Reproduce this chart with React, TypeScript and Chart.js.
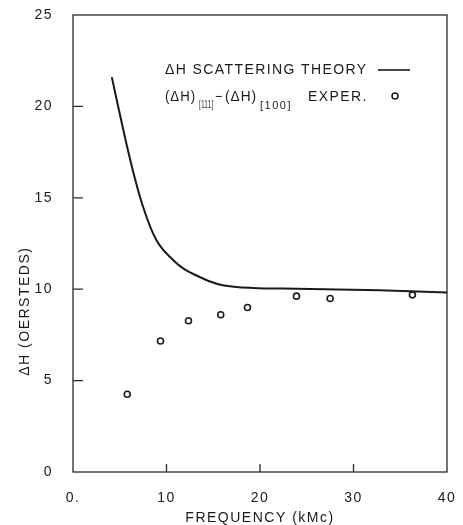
import React, { useEffect, useRef } from "react";
import { Chart, registerables } from "chart.js";

Chart.register(...registerables);

// Theory curve (ΔH scattering theory)
const theoryFreq = [4.15, 5.3, 6.4, 7.5, 8.9, 10.7, 11.9, 13.2, 14.5, 16.0, 19.2, 23.9, 32.8, 40];
const theoryDH = [21.6, 18.9, 16.5, 14.5, 12.7, 11.6, 11.1, 10.75, 10.45, 10.22, 10.07, 10.03, 9.94, 9.82];

// Experimental points (ΔH)[111] − (ΔH)[100]
const experFreq = [5.8, 9.36, 12.35, 15.8, 18.66, 23.9, 27.5, 36.3];
const experDH = [4.25, 7.17, 8.27, 8.6, 9.0, 9.62, 9.49, 9.69];

const xTickValues = [0, 10, 20, 30, 40];
const xTickLabels = ["0.", "10", "20", "30", "40"];
const yTickValues = [0, 5, 10, 15, 20, 25];
const yTickLabels = ["0", "5", "10", "15", "20", "25"];

const xTitle = "FREQUENCY (kMc)";
const yTitle = "ΔH (OERSTEDS)";
const legendTheory = "ΔH SCATTERING THEORY";

const FONT = "'Liberation Sans', Arial, sans-serif";
const INK = "#1a1a1a";

function setSpacing(ctx: any, px: number) {
  try {
    ctx.letterSpacing = px + "px";
  } catch (e) {}
}

const framePlugin = {
  id: "framePlugin",
  beforeDraw(chart: any) {
    const ctx = chart.ctx;
    ctx.save();
    ctx.fillStyle = "#ffffff";
    ctx.fillRect(0, 0, chart.width, chart.height);
    ctx.restore();
    setSpacing(ctx, 1.5);
  },
  afterDraw(chart: any) {
    const ctx = chart.ctx;
    const { left, right, top, bottom } = chart.chartArea;
    const xs = chart.scales.x;
    const ys = chart.scales.y;
    ctx.save();
    ctx.strokeStyle = "#2a2a2a";
    ctx.lineWidth = 1.3;
    ctx.strokeRect(left, top, right - left, bottom - top);
    ctx.beginPath();
    for (const t of ys.ticks) {
      if (t.value <= ys.min || t.value >= ys.max) continue;
      const y = ys.getPixelForValue(t.value);
      ctx.moveTo(left, y);
      ctx.lineTo(left + 10, y);
    }
    for (const t of xs.ticks) {
      if (t.value <= xs.min || t.value >= xs.max) continue;
      const x = xs.getPixelForValue(t.value);
      ctx.moveTo(x, bottom);
      ctx.lineTo(x, bottom - 8);
    }
    ctx.stroke();

    // Y axis title
    ctx.save();
    setSpacing(ctx, 1.5);
    ctx.fillStyle = INK;
    ctx.font = `14px ${FONT}`;
    ctx.textAlign = "center";
    ctx.textBaseline = "middle";
    ctx.translate(25, ys.getPixelForValue(8.8));
    ctx.rotate(-Math.PI / 2);
    ctx.fillText(yTitle, 0, 0);
    ctx.restore();

    // Legend
    setSpacing(ctx, 1.4);
    ctx.fillStyle = INK;
    ctx.textBaseline = "middle";
    ctx.textAlign = "left";
    const lx = left + 92;
    const y1 = top + 55;
    const y2 = top + 82;
    ctx.font = `14px ${FONT}`;
    ctx.fillText(legendTheory, lx, y1);
    ctx.beginPath();
    ctx.strokeStyle = INK;
    ctx.lineWidth = 1.6;
    ctx.moveTo(left + 305, y1);
    ctx.lineTo(left + 337, y1);
    ctx.stroke();

    setSpacing(ctx, 1);
    ctx.font = `14px ${FONT}`;
    ctx.fillText("(ΔH)", lx, y2, 31);
    ctx.font = `10px ${FONT}`;
    ctx.fillText("[111]", lx + 34, y2 + 8, 15);
    ctx.font = `14px ${FONT}`;
    ctx.fillText("−", lx + 50, y2, 8);
    ctx.fillText("(ΔH)", lx + 60, y2, 32);
    setSpacing(ctx, 1.5);
    ctx.font = `11px ${FONT}`;
    ctx.fillText("[100]", lx + 95, y2 + 9, 33);
    setSpacing(ctx, 1.4);
    ctx.font = `14px ${FONT}`;
    ctx.fillText("EXPER.", left + 235, y2);
    ctx.beginPath();
    ctx.lineWidth = 1.5;
    ctx.arc(left + 322, y2 - 1, 3, 0, Math.PI * 2);
    ctx.stroke();
    ctx.restore();
  },
};

export default function App() {
  const ref = useRef<HTMLCanvasElement | null>(null);

  useEffect(() => {
    if (!ref.current) return;
    const chart = new Chart(ref.current, {
      type: "line",
      data: {
        datasets: [
          {
            label: "ΔH SCATTERING THEORY",
            data: theoryFreq.map((f, i) => ({ x: f, y: theoryDH[i] })),
            borderColor: INK,
            borderWidth: 2,
            pointRadius: 0,
            cubicInterpolationMode: "monotone",
            fill: false,
          },
          {
            label: "(ΔH)[111]−(ΔH)[100] EXPER.",
            data: experFreq.map((f, i) => ({ x: f, y: experDH[i] })),
            showLine: false,
            pointRadius: 3,
            pointBorderWidth: 1.6,
            pointBorderColor: INK,
            pointBackgroundColor: "#ffffff",
            borderColor: INK,
          },
        ],
      },
      options: {
        animation: false,
        responsive: false,
        events: [],
        layout: { padding: { left: 0, right: 16, top: 15, bottom: 0 } },
        plugins: { legend: { display: false }, tooltip: { enabled: false } },
        scales: {
          x: {
            type: "linear",
            min: 0,
            max: 40,
            afterBuildTicks: (s: any) => {
              s.ticks = xTickValues.map((v) => ({ value: v }));
            },
            afterFit: (s: any) => {
              s.height = 53;
              s.paddingLeft = 0;
              s.paddingRight = 0;
            },
            ticks: {
              padding: 18,
              color: INK,
              font: { family: FONT, size: 14 },
              maxRotation: 0,
              autoSkip: false,
              callback: (v: any) => {
                const i = xTickValues.indexOf(Number(v));
                return i >= 0 ? xTickLabels[i] : "";
              },
            },
            grid: { display: false, drawTicks: false },
            border: { display: false },
            title: {
              display: true,
              text: xTitle,
              color: INK,
              font: { family: FONT, size: 14, lineHeight: 1 },
              padding: { top: 0, bottom: 0 },
            },
          },
          y: {
            type: "linear",
            min: 0,
            max: 25,
            afterBuildTicks: (s: any) => {
              s.ticks = yTickValues.map((v) => ({ value: v }));
            },
            afterFit: (s: any) => {
              s.width = 73;
              s.paddingTop = 0;
              s.paddingBottom = 0;
            },
            ticks: {
              padding: 20,
              color: INK,
              font: { family: FONT, size: 14 },
              autoSkip: false,
              callback: (v: any) => {
                const i = yTickValues.indexOf(Number(v));
                return i >= 0 ? yTickLabels[i] : "";
              },
            },
            grid: { display: false, drawTicks: false },
            border: { display: false },
            title: { display: false },
          },
        },
      },
      plugins: [framePlugin],
    } as any);
    return () => chart.destroy();
  }, []);

  return (
    <div style={{ position: "fixed", left: 0, top: 0, width: 463, height: 525, background: "#fff" }}>
      <canvas ref={ref} width={463} height={525} style={{ display: "block" }} />
    </div>
  );
}
